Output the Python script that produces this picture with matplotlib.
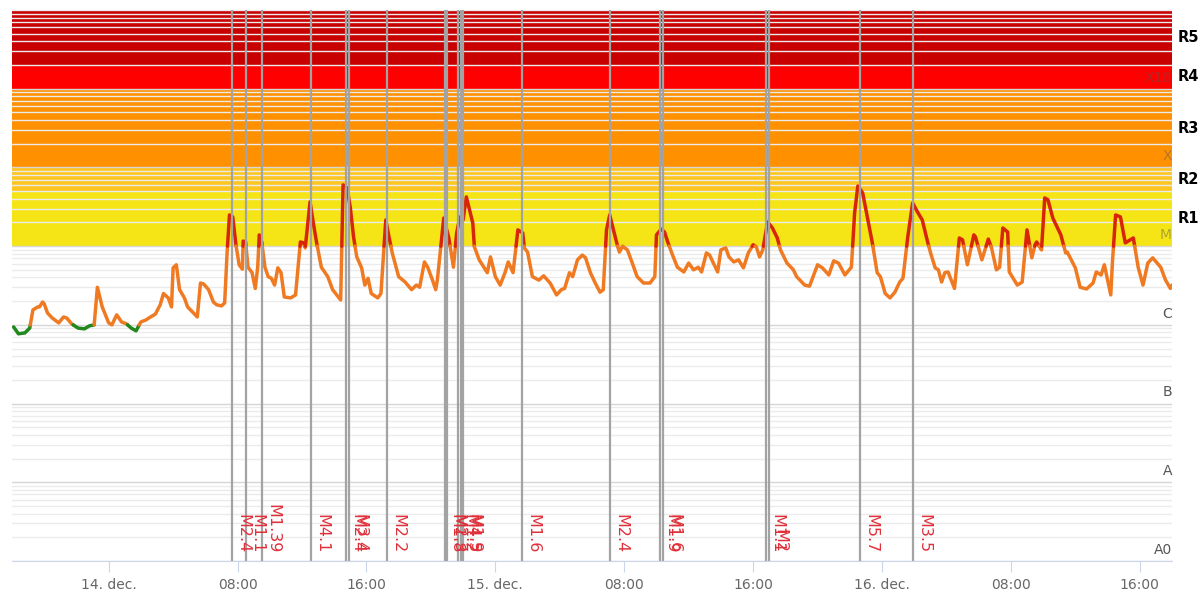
import numpy as np
import matplotlib
matplotlib.use("Agg")
import matplotlib.pyplot as plt

# GOES X-ray flux, hours after 13 dec 18:00
T_HOURS = [
    0.1, 0.4, 0.8, 1.1, 1.3, 1.6, 1.7, 1.9, 2.0, 2.2, 2.5, 2.9, 3.2, 3.4, 3.7, 4.1,
    4.5, 4.8, 5.1, 5.3, 5.6, 6.0, 6.2, 6.5, 6.8, 7.1, 7.4, 7.7, 8.0, 8.3, 8.6, 8.9,
    9.2, 9.4, 9.7, 9.9, 10.0, 10.2, 10.4, 10.7, 10.9, 11.2, 11.5, 11.7, 11.9, 12.2,
    12.5, 12.7, 13.0, 13.2, 13.35, 13.5, 13.7, 13.9, 14.1, 14.3, 14.35, 14.5, 14.65,
    14.9, 15.1, 15.25, 15.35, 15.5, 15.7, 15.9, 16.1, 16.3, 16.5, 16.7, 16.9, 17.3,
    17.6, 17.9, 18.1, 18.2, 18.5, 18.7, 18.9, 19.2, 19.6, 19.9, 20.4, 20.55, 20.8,
    21.0, 21.2, 21.4, 21.7, 21.9, 22.1, 22.3, 22.7, 22.9, 23.2, 23.4, 23.6, 24.0,
    24.4, 24.8, 25.1, 25.3, 25.6, 25.8, 26.1, 26.3, 26.4, 26.8, 26.9, 27.1, 27.2,
    27.4, 27.6, 27.8, 28.0, 28.2, 28.6, 28.7, 29.0, 29.5, 29.7, 30.0, 30.3, 30.6,
    30.8, 31.1, 31.4, 31.7, 31.8, 32.0, 32.3, 32.7, 33.0, 33.4, 33.8, 34.1, 34.3,
    34.6, 34.8, 35.1, 35.4, 35.6, 35.9, 36.2, 36.5, 36.7, 36.9, 37.1, 37.3, 37.6,
    37.7, 37.9, 38.2, 38.5, 38.8, 39.2, 39.6, 39.9, 40.0, 40.3, 40.5, 40.7, 41.0,
    41.3, 41.7, 42.0, 42.3, 42.6, 42.8, 43.1, 43.3, 43.5, 43.8, 44.0, 44.3, 44.5,
    44.8, 45.1, 45.4, 45.7, 46.0, 46.2, 46.4, 46.6, 46.9, 47.2, 47.5, 47.7, 48.1,
    48.5, 48.7, 49.2, 49.5, 50.0, 50.3, 50.7, 51.0, 51.3, 51.7, 52.1, 52.3, 52.5,
    52.8, 53.1, 53.4, 53.7, 53.9, 54.2, 54.5, 54.8, 55.1, 55.3, 55.6, 55.9, 56.2,
    56.5, 56.8, 57.0, 57.3, 57.5, 57.7, 57.9, 58.1, 58.5, 58.8, 59.0, 59.3, 59.7,
    59.8, 60.2, 60.6, 60.8, 61.1, 61.3, 61.5, 61.8, 61.9, 62.4, 62.7, 63.0, 63.3,
    63.5, 63.6, 63.9, 64.1, 64.3, 64.6, 65.1, 65.4, 65.5, 66.0, 66.3, 66.7, 67.1,
    67.3, 67.6, 67.8, 68.2, 68.3, 68.5, 68.8, 69.1, 69.4, 69.6, 69.9, 70.2, 70.5,
    70.8, 71.3, 71.6, 71.9, 72.0,
]
FLUX = [
    9.4e-7, 7.7e-7, 7.9e-7, 9.1e-7, 1.55e-6, 1.69e-6, 1.69e-6, 1.95e-6, 1.85e-6,
    1.42e-6, 1.22e-6, 1.06e-6, 1.26e-6, 1.22e-6, 1.03e-6, 9.1e-7, 8.9e-7, 9.7e-7,
    1.0e-6, 3.0e-6, 1.69e-6, 1.06e-6, 1.0e-6, 1.34e-6, 1.09e-6, 1.03e-6, 9.1e-7,
    8.4e-7, 1.09e-6, 1.15e-6, 1.26e-6, 1.37e-6, 1.8e-6, 2.5e-6, 2.2e-6, 1.69e-6,
    5.3e-6, 5.8e-6, 2.8e-6, 2.2e-6, 1.69e-6, 1.46e-6, 1.26e-6, 3.4e-6, 3.3e-6,
    2.8e-6, 1.95e-6, 1.8e-6, 1.74e-6, 1.9e-6, 8.2e-6, 2.49e-5, 2.35e-5, 1.04e-5,
    5.8e-6, 5.1e-6, 1.16e-5, 1.13e-5, 5.4e-6, 4.6e-6, 2.9e-6, 5.4e-6, 1.39e-5,
    1.13e-5, 5.4e-6, 4.1e-6, 3.9e-6, 3.2e-6, 5.3e-6, 4.6e-6, 2.26e-6, 2.2e-6,
    2.4e-6, 1.13e-5, 1.10e-5, 9.5e-6, 3.65e-5, 1.97e-5, 1.13e-5, 5.4e-6, 4.1e-6,
    2.8e-6, 2.07e-6, 6.0e-5, 5.49e-5, 3.06e-5, 1.31e-5, 7.3e-6, 5.3e-6, 3.2e-6,
    3.9e-6, 2.5e-6, 2.2e-6, 2.5e-6, 2.15e-5, 1.31e-5, 8.2e-6, 4.1e-6, 3.5e-6,
    2.8e-6, 3.2e-6, 3.0e-6, 6.3e-6, 5.4e-6, 3.7e-6, 2.8e-6, 3.7e-6, 2.28e-5,
    1.86e-5, 1.31e-5, 9.8e-6, 5.4e-6, 1.47e-5, 2.35e-5, 2.15e-5, 4.22e-5, 1.97e-5,
    9.8e-6, 6.7e-6, 4.6e-6, 7.3e-6, 4.1e-6, 3.2e-6, 4.6e-6, 6.3e-6, 4.6e-6,
    1.61e-5, 1.47e-5, 9.5e-6, 8.4e-6, 4.1e-6, 3.7e-6, 4.2e-6, 3.4e-6, 2.4e-6,
    2.8e-6, 2.9e-6, 4.6e-6, 4.1e-6, 6.7e-6, 7.7e-6, 7.1e-6, 4.6e-6, 3.4e-6,
    2.6e-6, 2.8e-6, 1.61e-5, 2.49e-5, 1.70e-5, 9.8e-6, 8.4e-6, 1.0e-5, 8.95e-6,
    6.1e-6, 4.1e-6, 3.4e-6, 3.4e-6, 4.1e-6, 1.39e-5, 1.65e-5, 1.51e-5, 1.13e-5,
    7.7e-6, 5.4e-6, 4.7e-6, 6.1e-6, 5.0e-6, 5.4e-6, 4.7e-6, 8.2e-6, 7.7e-6,
    6.3e-6, 4.7e-6, 8.95e-6, 9.5e-6, 7.3e-6, 6.3e-6, 6.7e-6, 5.3e-6, 8.2e-6,
    1.04e-5, 9.8e-6, 7.3e-6, 8.95e-6, 2.03e-5, 1.70e-5, 1.27e-5, 8.95e-6, 6.1e-6,
    5.0e-6, 4.1e-6, 3.2e-6, 3.1e-6, 5.8e-6, 5.3e-6, 4.3e-6, 6.5e-6, 6.1e-6,
    4.3e-6, 5.4e-6, 2.64e-5, 5.8e-5, 4.74e-5, 2.28e-5, 1.10e-5, 4.6e-6, 4.1e-6,
    2.5e-6, 2.2e-6, 2.6e-6, 3.5e-6, 3.9e-6, 1.31e-5, 3.54e-5, 2.72e-5, 2.15e-5,
    1.20e-5, 8.4e-6, 5.3e-6, 5.0e-6, 3.5e-6, 4.6e-6, 4.7e-6, 2.9e-6, 1.27e-5,
    1.20e-5, 5.8e-6, 1.39e-5, 1.31e-5, 6.7e-6, 1.23e-5, 9.5e-6, 5.0e-6, 5.4e-6,
    1.70e-5, 1.51e-5, 4.7e-6, 3.2e-6, 3.5e-6, 1.61e-5, 7.1e-6, 1.04e-5, 1.13e-5,
    8.95e-6, 4.10e-5, 3.87e-5, 2.28e-5, 1.39e-5, 8.2e-6, 8.4e-6, 5.3e-6, 3.0e-6,
    2.86e-6, 3.4e-6, 4.7e-6, 4.3e-6, 5.8e-6, 2.4e-6, 6.1e-6, 2.49e-5, 2.35e-5,
    1.10e-5, 1.20e-5, 1.27e-5, 5.4e-6, 3.2e-6, 6.1e-6, 7.1e-6, 5.4e-6, 3.7e-6,
    2.9e-6, 3.2e-6,
]

# flare markers
FLARE_T = [13.66, 14.53, 15.52, 18.56, 20.73, 20.92, 23.28, 26.88, 27.0, 27.69,
           27.87, 28.0, 31.66, 37.12, 40.22, 40.41, 46.8, 46.99, 52.64, 55.93]
FLARE_LABELS = ["M2.4", "M1.1", "M1.39", "M4.1", "M2.4", "M3.4", "M2.2", "M1.8",
                "M2.3", "M1.2", "M4.5", "M1.9", "M1.6", "M2.4", "M1.9", "M1.6",
                "M1.1", "M2", "M5.7", "M3.5"]

# radio blackout bands
BAND_NAMES = ["R1", "R2", "R3", "R4", "R5"]
BAND_LOW = [1e-5, 5e-5, 1e-4, 1e-3, 2e-3]
BAND_HIGH = [5e-5, 1e-4, 1e-3, 2e-3, 1e-2]
BAND_COLORS = ["#f5e516", "#fcc51f", "#ff9100", "#ff0000", "#c80000"]

CLASS_NAMES = ["A0", "A", "B", "C", "M", "X", "X10"]
CLASS_FLUX = [1e-9, 1e-8, 1e-7, 1e-6, 1e-5, 1e-4, 1e-3]

TICK_HOURS = [6, 14, 22, 30, 38, 46, 54, 62, 70]
TICK_LABELS = ["14. dec.", "08:00", "16:00", "15. dec.", "08:00", "16:00",
               "16. dec.", "08:00", "16:00"]

ZONE_LIMITS = [-6, -5]  # log10 flux where line colour changes
ZONE_COLORS = ["#22881e", "#f07a22", "#d8250a"]


def zone_runs(t, f, limits):
    """split the series into runs of same colour, cutting at the limits"""
    lf = np.log10(f)
    xs, ys = [t[0]], [lf[0]]
    for i in range(1, len(t)):
        a, b = lf[i - 1], lf[i]
        cuts = sorted([c for c in limits if (a - c) * (b - c) < 0], reverse=b < a)
        for c in cuts:
            fr = (c - a) / (b - a)
            xs.append(t[i - 1] + fr * (t[i] - t[i - 1]))
            ys.append(c)
        xs.append(t[i])
        ys.append(b)
    xs, ys = np.array(xs), np.array(ys)
    mids = (ys[:-1] + ys[1:]) / 2
    zone = np.searchsorted(limits, mids)
    runs = []
    start = 0
    for j in range(1, len(zone) + 1):
        if j == len(zone) or zone[j] != zone[start]:
            runs.append((xs[start:j + 1], 10 ** ys[start:j + 1], zone[start]))
            start = j
    return runs


fig = plt.figure(figsize=(12.03, 5.92), dpi=100)
ax = fig.add_axes([12 / 1203, 31 / 592, 1160 / 1203, 551 / 592])
ax.set_yscale("log")
ax.set_ylim(1e-9, 1e-2)
ax.set_xlim(0, 72)

for lo, hi, c in zip(BAND_LOW, BAND_HIGH, BAND_COLORS):
    ax.axhspan(lo, hi, color=c, lw=0, zorder=0)

# log grid
for n in range(-9, -2):
    for k in range(1, 10):
        v = k * 10.0 ** n
        ax.axhline(v, color="#d6d6d6" if k == 1 else "#ebebeb",
                   lw=1.0, zorder=1)
ax.axhline(1e-2, color="#ebebeb", lw=1.0, zorder=1)

for xs, ys, z in zone_runs(T_HOURS, FLUX, ZONE_LIMITS):
    ax.plot(xs, ys, color=ZONE_COLORS[z], lw=2.5, zorder=3,
            solid_joinstyle="round", solid_capstyle="round")

for t, lbl in zip(FLARE_T, FLARE_LABELS):
    ax.axvline(t, color="#a3a3a3", lw=1.6, zorder=4)
    ax.annotate(lbl, xy=(t, 0.014), xycoords=ax.get_xaxis_transform(),
                xytext=(2.5, 0), textcoords="offset points",
                rotation=-90, ha="left", va="bottom",
                color="#e0303a", fontsize=11.5, zorder=5)

# class labels on the right edge, inside the plot
for name, v in zip(CLASS_NAMES, CLASS_FLUX):
    ax.annotate(name, xy=(1.0, v), xycoords=ax.get_yaxis_transform(),
                xytext=(0, 3), textcoords="offset points",
                ha="right", va="bottom", color="#555555",
                alpha=0.45 if v >= 1e-5 else 1.0, fontsize=10, zorder=2)

# R scale outside the plot
for name, lo, hi in zip(BAND_NAMES, BAND_LOW, BAND_HIGH):
    ax.annotate(name, xy=(1.0, np.sqrt(lo * hi)), xycoords=ax.get_yaxis_transform(),
                xytext=(4, 0), textcoords="offset points",
                ha="left", va="center", color="black",
                fontsize=10.5, fontweight="bold", annotation_clip=False)

ax.set_xticks(TICK_HOURS)
ax.set_xticklabels(TICK_LABELS)
ax.tick_params(axis="x", length=8, color="#ccd6eb", labelcolor="#666666",
               labelsize=10, pad=4)
ax.tick_params(axis="y", which="both", left=False, labelleft=False)
ax.minorticks_off()
for s in ["top", "left", "right"]:
    ax.spines[s].set_visible(False)
ax.spines["bottom"].set_color("#ccd6eb")
ax.spines["bottom"].set_zorder(6)

fig.savefig("out.png", dpi=100)
